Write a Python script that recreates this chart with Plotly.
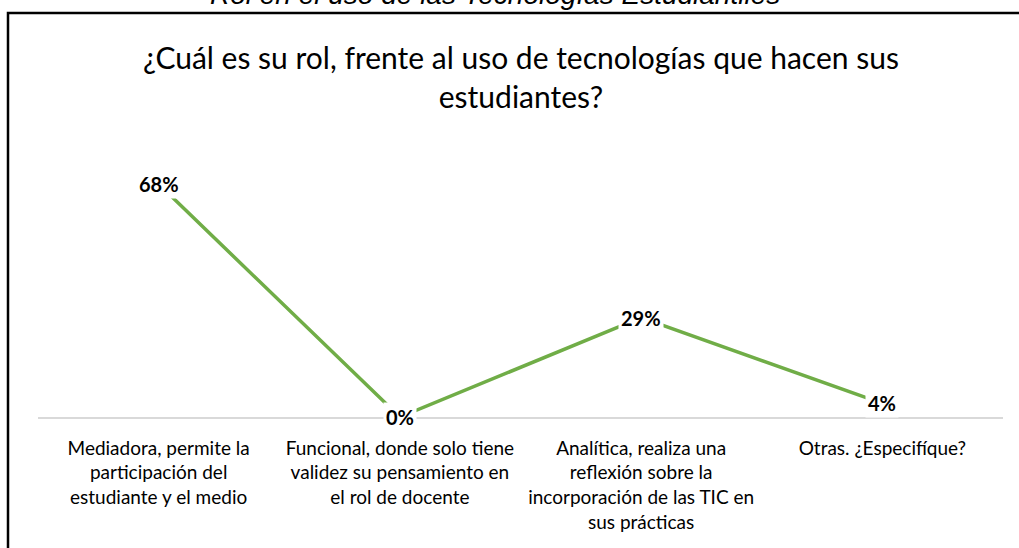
import plotly.graph_objects as go

categories = [
    "Mediadora, permite la participación del estudiante y el medio",
    "Funcional, donde solo tiene validez su pensamiento en el rol de docente",
    "Analítica, realiza una reflexión sobre la incorporación de las TIC en sus prácticas",
    "Otras. ¿Especifíque?",
]
tick_labels = [
    "Mediadora, permite la<br>participación del<br>estudiante y el medio",
    "Funcional, donde solo tiene<br>validez su pensamiento en<br>el rol de docente",
    "Analítica, realiza una<br>reflexión sobre la<br>incorporación de las TIC en<br>sus prácticas",
    "Otras. ¿Especifíque?",
]
values = [68, 0, 29, 4]
value_labels = ["68%", "0%", "29%", "4%"]

title_text = "¿Cuál es su rol, frente al uso de tecnologías que hacen sus<br>estudiantes?"
caption_text = "Rol en el uso de las Tecnologías Estudiantiles"

FONT = "Lato"
W, H = 1019, 548
L, R, T, B = 38, 16, 143, 131

fig = go.Figure()
fig.add_trace(go.Scatter(
    x=categories, y=values, mode="lines",
    line=dict(color="#70AD47", width=3.5),
    cliponaxis=False, hoverinfo="skip", showlegend=False,
))

for c, v, t in zip(categories, values, value_labels):
    fig.add_annotation(
        x=c, y=v, xref="x", yref="y", text="<b>%s</b>" % t, showarrow=False,
        font=dict(family=FONT, size=20, color="#000000"),
        bgcolor="white", borderpad=2, xanchor="center", yanchor="middle",
    )

pw = W - L - R
ph = H - T - B
def px_x(p):
    return (p - L) / pw
def px_y(p):
    return (H - B - p) / ph

# chart frame (partly outside the visible window)
fig.add_shape(type="rect", xref="paper", yref="paper",
              x0=px_x(8), x1=px_x(1040), y0=px_y(570), y1=px_y(13),
              line=dict(color="#000000", width=2.5), fillcolor="rgba(0,0,0,0)", layer="below")

fig.add_annotation(xref="paper", yref="paper", x=px_x(521), y=px_y(77),
                   text=title_text, showarrow=False, xanchor="center", yanchor="middle",
                   font=dict(family=FONT, size=30, color="#000000"))

fig.add_annotation(xref="paper", yref="paper", x=px_x(495), y=px_y(12),
                   text="<i>%s</i>" % caption_text, showarrow=False,
                   xanchor="center", yanchor="bottom",
                   font=dict(family="Liberation Sans", size=28, color="#000000"))

fig.update_xaxes(
    type="category", categoryorder="array", categoryarray=categories,
    tickmode="array", tickvals=categories, ticktext=tick_labels,
    range=[-0.5, 3.5], showline=True, linecolor="#D9D9D9", linewidth=1.5,
    showgrid=False, zeroline=False, ticks="outside", ticklen=13,
    tickcolor="rgba(0,0,0,0)",
    tickfont=dict(family=FONT, size=19, color="#000000"),
)
fig.update_yaxes(range=[0, 80], visible=False, showgrid=False, zeroline=False)

fig.update_layout(
    width=W, height=H, margin=dict(l=L, r=R, t=T, b=B),
    paper_bgcolor="white", plot_bgcolor="white",
)

fig.write_html("out.html", config={"displayModeBar": False},
               post_script="document.body.style.margin='0';")
